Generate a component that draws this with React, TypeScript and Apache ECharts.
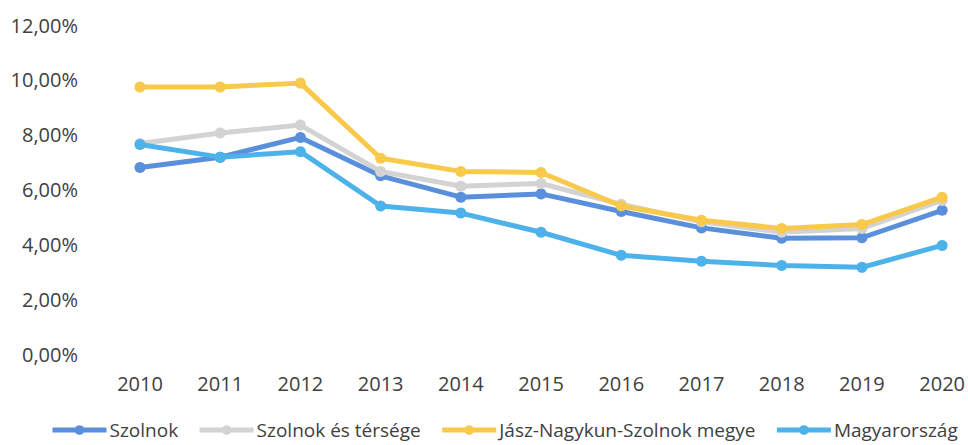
import React, { useEffect, useRef } from "react";
import * as echarts from "echarts";

const years = ["2010", "2011", "2012", "2013", "2014", "2015", "2016", "2017", "2018", "2019", "2020"];
const szolnok = [6.8, 7.18, 7.9, 6.5, 5.72, 5.84, 5.2, 4.6, 4.22, 4.24, 5.24];
const szolnokTersege = [7.68, 8.06, 8.35, 6.66, 6.12, 6.22, 5.46, 4.82, 4.44, 4.58, 5.6];
const jnszMegye = [9.74, 9.74, 9.88, 7.14, 6.66, 6.62, 5.4, 4.88, 4.58, 4.72, 5.72];
const magyarorszag = [7.64, 7.18, 7.38, 5.4, 5.14, 4.44, 3.6, 3.38, 3.23, 3.16, 3.96];
const seriesNames = ["Szolnok", "Szolnok és térsége", "Jász-Nagykun-Szolnok megye", "Magyarország"];
const seriesColors = ["#5a8fdc", "#d3d3d3", "#f8c94a", "#4db2ea"];

const FONT = "'Open Sans', sans-serif";

export default function App() {
  const ref = useRef<HTMLDivElement>(null);
  useEffect(() => {
    if (!ref.current) return;
    const chart = echarts.init(ref.current, null, { renderer: "svg" });
    const datasets = [szolnok, szolnokTersege, jnszMegye, magyarorszag];
    chart.setOption({
      animation: false,
      backgroundColor: "#ffffff",
      textStyle: { fontFamily: FONT },
      grid: { left: 140, right: 23, top: 25, bottom: 91, containLabel: false },
      legend: {
        left: 50,
        top: 420,
        padding: 0,
        itemWidth: 54,
        itemHeight: 12,
        itemGap: 19,
        lineStyle: { width: 5 },
        textStyle: { fontFamily: FONT, fontSize: 19, lineHeight: 20, color: "#404040", padding: [0, 0, 0, -2] },
        data: seriesNames,
      },
      xAxis: {
        type: "category",
        data: years,
        boundaryGap: false,
        axisLine: { show: false },
        axisTick: { show: false },
        axisLabel: { margin: 19, fontSize: 20, color: "#404040", fontFamily: FONT },
        splitLine: { show: false },
      },
      yAxis: {
        type: "value",
        min: 0,
        max: 12,
        interval: 2,
        axisLine: { show: false },
        axisTick: { show: false },
        splitLine: { show: false },
        axisLabel: {
          margin: 62,
          fontSize: 20,
          color: "#404040",
          fontFamily: FONT,
          formatter: (v: number) => v.toFixed(2).replace(".", ",") + "%",
        },
      },
      series: datasets.map((d, i) => ({
        name: seriesNames[i],
        type: "line",
        data: d,
        symbol: "circle",
        symbolSize: 11,
        lineStyle: { width: 5, color: seriesColors[i] },
        itemStyle: { color: seriesColors[i] },
        z: 2 + i,
      })),
    });
    return () => chart.dispose();
  }, []);
  return <div ref={ref} style={{ width: 968, height: 445, position: "absolute", left: 0, top: 0 }} />;
}
